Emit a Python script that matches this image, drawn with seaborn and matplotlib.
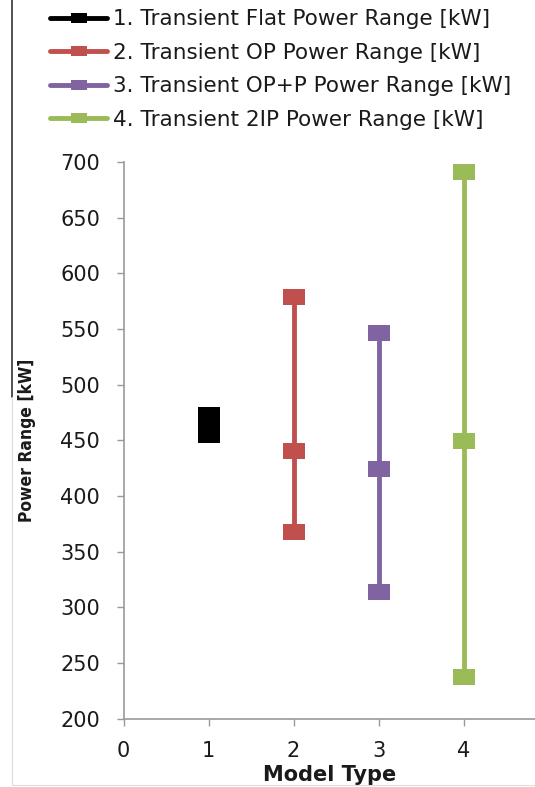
import numpy as np
import pandas as pd
import seaborn as sns
import matplotlib.pyplot as plt
from matplotlib.path import Path
from matplotlib.lines import Line2D

# values
series_names = [
    "1. Transient Flat Power Range [kW]",
    "2. Transient OP Power Range [kW]",
    "3. Transient OP+P Power Range [kW]",
    "4. Transient 2IP Power Range [kW]",
]
model_type = [1, 2, 3, 4]
flat_range = [455, 464, 473]
op_range = [368, 440, 579]
opp_range = [314, 424, 546]
twoip_range = [237, 449, 691]
colors = ["#000000", "#C0504D", "#8064A2", "#9BBB59"]

# long table for seaborn
rows = []
for name, x, vals in zip(series_names, model_type, [flat_range, op_range, opp_range, twoip_range]):
    for v in vals:
        rows.append({"series": name, "Model Type": x, "Power Range [kW]": v})
df = pd.DataFrame(rows)

sns.set_style("white")
plt.rcParams["font.family"] = ["DejaVu Sans"]
plt.rcParams["text.color"] = "#1a1a1a"
plt.rcParams["axes.labelcolor"] = "#1a1a1a"
plt.rcParams["xtick.color"] = "#1a1a1a"
plt.rcParams["ytick.color"] = "#1a1a1a"

fig = plt.figure(figsize=(5.35, 7.87), dpi=100)
ax = fig.add_axes([0.231, 0.087, 0.769, 0.707])


def rect_marker(ratio):
    # wider-than-tall box like the Excel marker
    return Path([(-1, -ratio), (1, -ratio), (1, ratio), (-1, ratio), (-1, -ratio)],
                [Path.MOVETO, Path.LINETO, Path.LINETO, Path.LINETO, Path.CLOSEPOLY])


sns.lineplot(data=df, x="Model Type", y="Power Range [kW]", hue="series",
             palette=colors, estimator=None, sort=False, marker=rect_marker(0.72),
             markersize=16, linewidth=3.5, markeredgewidth=0,
             legend=False, ax=ax)

ax.set_xlim(0, 4.84)
ax.set_ylim(200, 700)
ax.set_xticks([0, 1, 2, 3, 4])
ax.set_yticks(np.arange(200, 701, 50))
ax.tick_params(axis="both", labelsize=15, length=5, width=1,
               direction="out", bottom=True, left=True)
ax.tick_params(axis="x", pad=11)
ax.tick_params(axis="y", pad=12)
for t in ax.get_xticklines() + ax.get_yticklines():
    t.set_markeredgecolor("#999999")
for s in ["top", "right"]:
    ax.spines[s].set_visible(False)
for s in ["left", "bottom"]:
    ax.spines[s].set_color("#999999")
    ax.spines[s].set_linewidth(1.2)

ax.set_xlabel("Model Type", fontsize=15, fontweight="bold")
ax.xaxis.set_label_coords(0.5, -0.084)
ax.set_ylabel("Power Range [kW]", fontsize=12.5, fontweight="bold",
              fontstretch="condensed")
ax.yaxis.set_label_coords(-0.212, 0.5)

handles = [Line2D([0], [0], color=c, lw=3.5, marker=rect_marker(0.62), markersize=11.5,
                  markeredgewidth=0) for c in colors]
fig.legend(handles, series_names, loc="upper left", bbox_to_anchor=(0.058, 1.013),
           frameon=False, fontsize=15.5, handlelength=2.65, handletextpad=0.28,
           labelspacing=0.63)

# border left over from the source screenshot
fig.add_artist(Line2D([0.023, 0.023], [1.0, 0.495], transform=fig.transFigure,
                      color="#333333", lw=1.2))
fig.add_artist(Line2D([0.023, 0.023], [0.495, 0.002], transform=fig.transFigure,
                      color="#dddddd", lw=0.8))
fig.add_artist(Line2D([0.023, 1.0], [0.002, 0.002], transform=fig.transFigure,
                      color="#dddddd", lw=0.8))

fig.savefig("out.png", dpi=100)
